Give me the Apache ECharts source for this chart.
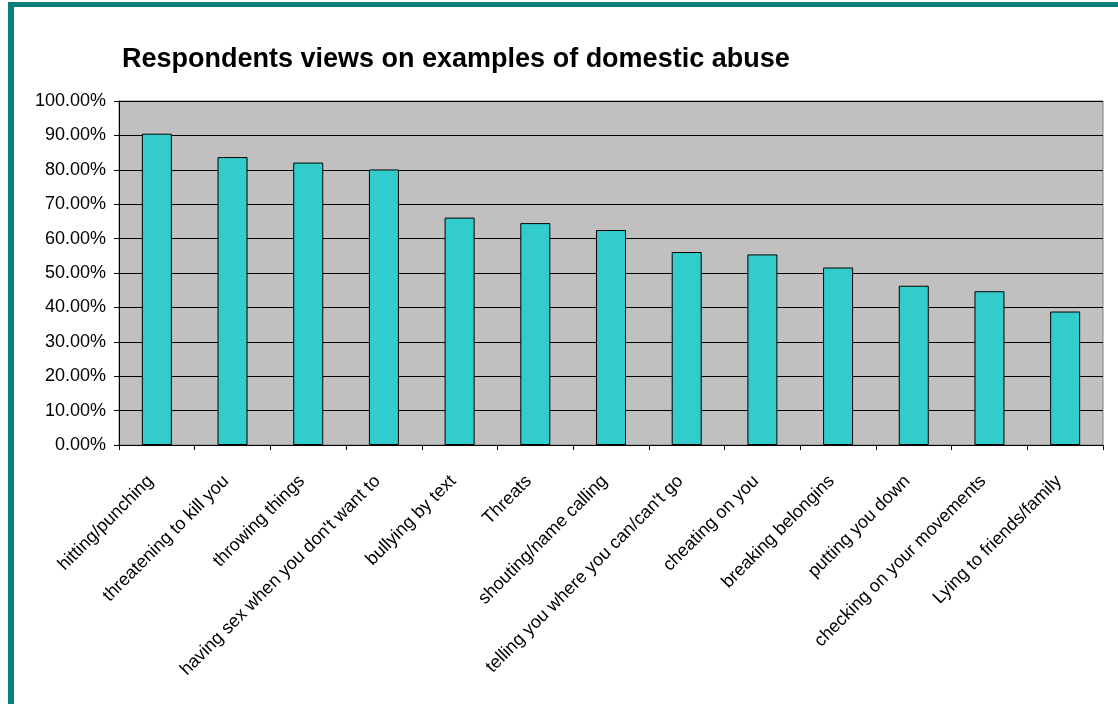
<!DOCTYPE html>
<html>
<head>
<meta charset="utf-8">
<script src="https://cdn.jsdelivr.net/npm/echarts@6/dist/echarts.min.js"></script>
<style>
html,body{margin:0;padding:0;background:#fff;}
#c{width:1118px;height:704px;}
</style>
</head>
<body>
<div id="c"></div>
<script>
const titleText = 'Respondents views on examples of domestic abuse';
const categories = [
  'hitting/punching',
  'threatening to kill you',
  'throwing things',
  "having sex when you don't want to",
  'bullying by text',
  'Threats',
  'shouting/name calling',
  "telling you where you can/can't go",
  'cheating on you',
  'breaking belongins',
  'putting you down',
  'checking on your movements',
  'Lying to friends/family'
];
const values = [90.5, 83.7, 82.1, 80.1, 66.1, 64.5, 62.5, 56.1, 55.4, 51.6, 46.3, 44.7, 38.8];

const chart = echarts.init(document.getElementById('c'), null, {renderer: 'canvas'});
const font = 'Liberation Sans, Arial, sans-serif';
chart.setOption({
  animation: false,
  textStyle: {fontFamily: font},
  title: {
    text: titleText,
    left: 117,
    top: 41,
    textStyle: {fontFamily: font, fontSize: 27, fontWeight: 'bold', color: '#000'}
  },
  graphic: [
    {type: 'rect', shape: {x: 8, y: 2, width: 1110, height: 5}, style: {fill: '#07807a'}},
    {type: 'rect', shape: {x: 8, y: 2, width: 6, height: 702}, style: {fill: '#07807a'}}
  ],
  grid: {
    left: 119, right: 15, top: 101, bottom: 259,
    show: true, backgroundColor: '#c0c0c0', borderColor: '#808080', borderWidth: 1
  },
  xAxis: {
    type: 'category',
    data: categories,
    axisLine: {lineStyle: {color: '#000', width: 1}},
    axisTick: {show: true, length: 5, lineStyle: {color: '#000'}},
    axisLabel: {interval: 0, rotate: 45, fontSize: 18, color: '#000', margin: 27,
      padding: [0, 9, 0, 0], fontFamily: font}
  },
  yAxis: {
    type: 'value',
    min: 0, max: 100, interval: 10,
    axisLine: {show: true, lineStyle: {color: '#000', width: 1}},
    axisTick: {show: true, length: 5, lineStyle: {color: '#000'}},
    axisLabel: {fontSize: 18, color: '#000', margin: 13, fontFamily: font,
      formatter: v => v.toFixed(2) + '%'},
    splitLine: {show: true, lineStyle: {color: '#000', width: 1}}
  },
  series: [{
    type: 'bar',
    data: values,
    barWidth: 30,
    itemStyle: {color: '#33cccc', borderColor: '#000', borderWidth: 1}
  }]
});
</script>
</body>
</html>
